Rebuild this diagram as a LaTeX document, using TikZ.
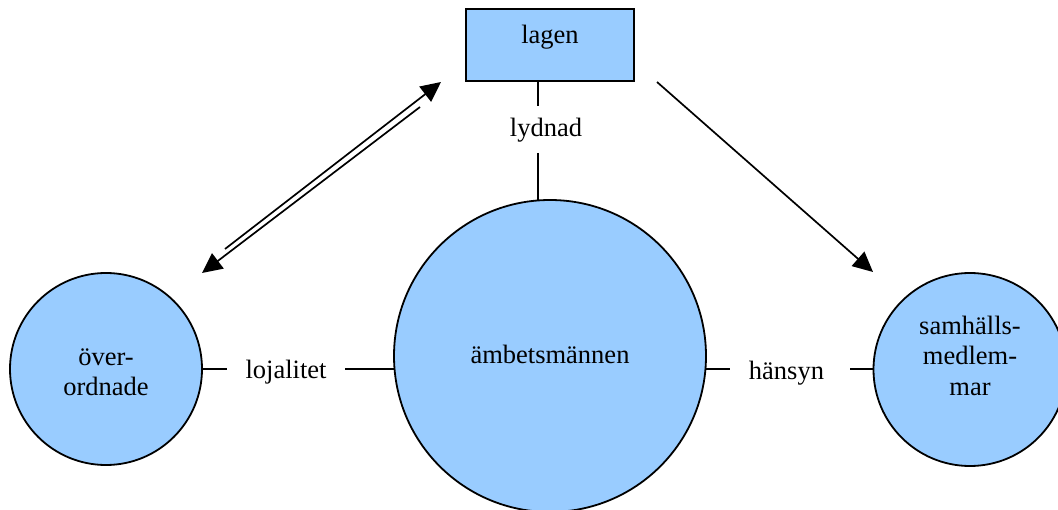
\documentclass[tikz,border=0pt]{standalone}
\usepackage{fontspec}
\setmainfont{Liberation Serif}
\usetikzlibrary{arrows.meta}
\definecolor{paleblue}{RGB}{153,204,255}
\begin{document}
\begin{tikzpicture}[x=1pt,y=-1pt,
  every node/.style={font=\fontsize{26.5}{30.5}\selectfont, inner sep=0pt},
  disc/.style={circle, draw=black, line width=1.8pt, fill=paleblue},
  box/.style={rectangle, draw=black, line width=1.8pt, fill=paleblue,
              minimum width=168pt, minimum height=72pt, text depth=22pt},
  txt/.style={align=center},
  tie/.style={line width=1.7pt},
  arr/.style={line width=1.7pt, -{Triangle[length=20pt,width=19pt]}}
]
\useasboundingbox (0,0) rectangle (1058,510);

% shapes
\node[box] (lagen) at (550,45) {lagen};
\node[disc, minimum size=192pt] (over) at (106,369) {};
\node[disc, minimum size=312pt] (mid) at (550,356) {};
\node[disc, minimum size=193pt] (samh) at (970,369.5) {};

% texts inside the circles
\node[txt] (overtxt) at (106,372.5) {över-\\ordnade};
\node[txt, anchor=base] (midtxt) at (550,363.3) {ämbetsmännen};
\node[txt] (samhtxt) at (970,355.5) {samhälls-\\medlem-\\mar};

% relation labels
\node[anchor=base] (lyd) at (546,137) {lydnad};
\node[anchor=base] (loj) at (286,379) {lojalitet};
\node[anchor=base] (hans) at (786.5,379.5) {hänsyn};

% ends of the relation lines
\coordinate (lydA) at (538,81);
\coordinate (lydB) at (538,106);
\coordinate (lydC) at (538,153);
\coordinate (lydD) at (538,200.5);
\coordinate (lojA) at (227,369);
\coordinate (lojB) at (345,369);
\coordinate (lojC) at (394.5,369);
\coordinate (hanA) at (705.5,369);
\coordinate (hanB) at (730,369);
\coordinate (hanC) at (850,369);
\coordinate (hanD) at (873.5,369);

\draw[tie] (lydA) -- (lydB);
\draw[tie] (lydC) -- (lydD);
\draw[tie] (over.east) -- (lojA);
\draw[tie] (lojB) -- (lojC);
\draw[tie] (hanA) -- (hanB);
\draw[tie] (hanC) -- (hanD);

% arrows
\coordinate (upS) at (225,249);
\coordinate (upE) at (441,82);
\coordinate (dnS) at (420,107);
\coordinate (dnE) at (202,273);
\coordinate (rtS) at (657,82);
\coordinate (rtE) at (873,272);
\draw[arr] (upS) -- (upE);
\draw[arr] (dnS) -- (dnE);
\draw[arr] (rtS) -- (rtE);
\end{tikzpicture}
\end{document}
